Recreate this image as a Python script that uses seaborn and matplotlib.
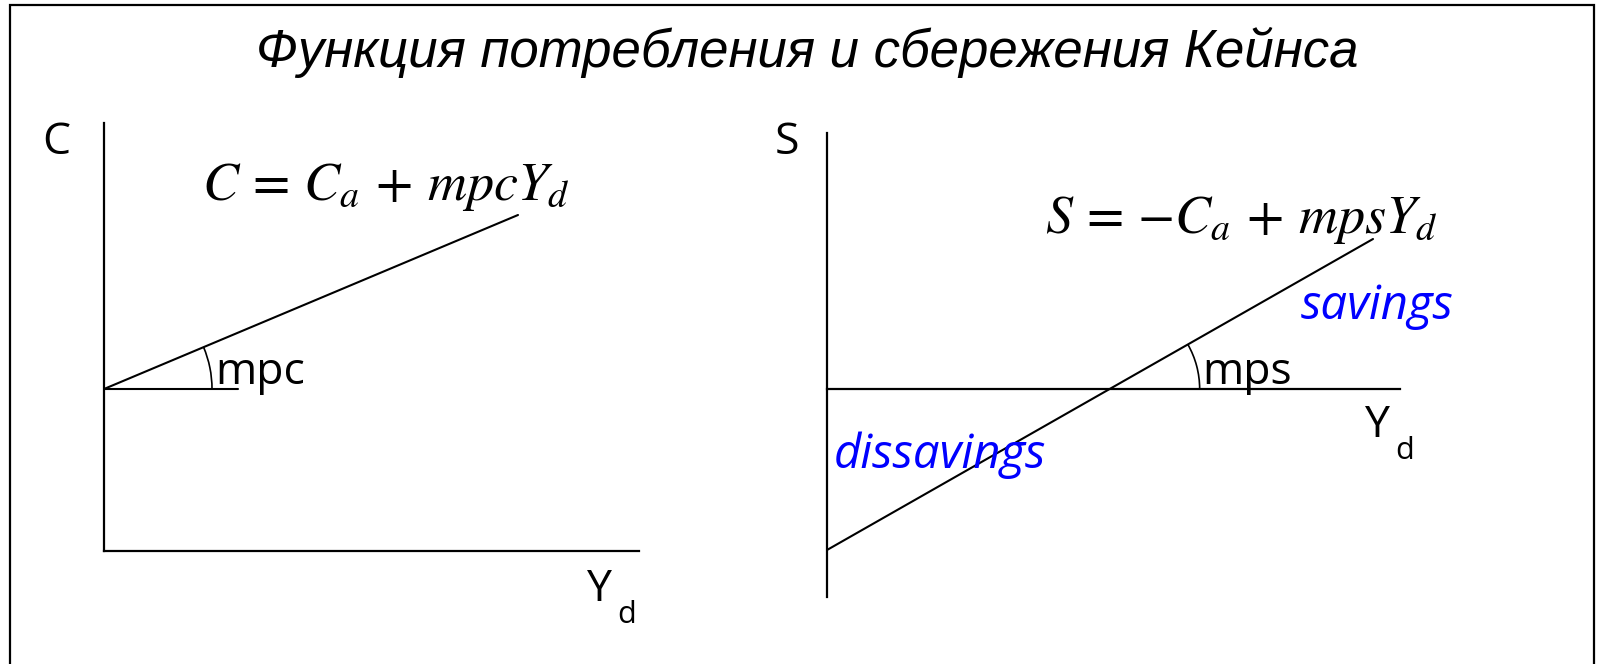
import numpy as np
import pandas as pd
import matplotlib
matplotlib.use("Agg")
import matplotlib.pyplot as plt
from matplotlib.patches import Arc, Rectangle
import seaborn as sns

# chart values (1 unit = 10 px of the original picture)
yd_cons = [0, 41.4]
cons = [16.2, 33.6]
mpc_base = [0, 13.4]

yd_sav = [0, 54.6]
sav = [-16.1, 15.0]

title = "Функция потребления и сбережения Кейнса"
cons_formula = r"$C\,=\,C_a\,+\,mpcY_d$"
sav_formula = r"$S\,=\,{-}C_a\,+\,mpsY_d$"

W, H = 1602, 664
sns.set_theme(style="white")
plt.rcParams["mathtext.fontset"] = "stix"
plt.rcParams["font.family"] = ["Open Sans", "DejaVu Sans"]
plt.rcParams["text.color"] = "black"

fig = plt.figure(figsize=(W / 100, H / 100), dpi=100)


def px(x, y):
    return x / W, 1 - y / H


def place_axes(x0, y0, x1, y1):
    return fig.add_axes([x0 / W, 1 - y1 / H, (x1 - x0) / W, (y1 - y0) / H])


def bare(ax):
    ax.set_xticks([])
    ax.set_yticks([])
    ax.set_xlabel("")
    ax.set_ylabel("")
    for s in ["top", "right"]:
        ax.spines[s].set_visible(False)
    for s in ["left", "bottom"]:
        ax.spines[s].set_color("black")
        ax.spines[s].set_linewidth(1.6)
    ax.patch.set_alpha(0)


# ---- left panel: consumption
ax1 = place_axes(104, 123, 639, 551)
df_c = pd.DataFrame({"Yd": yd_cons, "C": cons})
sns.lineplot(data=df_c, x="Yd", y="C", ax=ax1, color="black", lw=1.5)
sns.lineplot(x=mpc_base, y=[cons[0]] * 2, ax=ax1, color="black", lw=1.5)
ax1.set_xlim(0, 53.5)
ax1.set_ylim(0, 42.8)
bare(ax1)
ang_c = np.degrees(np.arctan2(cons[1] - cons[0], yd_cons[1] - yd_cons[0]))
ax1.add_patch(Arc((yd_cons[0], cons[0]), 21.6, 21.6, theta1=0, theta2=ang_c,
                  color="black", lw=1.2))

# ---- right panel: savings
ax2 = place_axes(827, 133, 1400, 597)
df_s = pd.DataFrame({"Yd": yd_sav, "S": sav})
sns.lineplot(data=df_s, x="Yd", y="S", ax=ax2, color="black", lw=1.5)
ax2.set_xlim(0, 57.3)
ax2.set_ylim(-20.8, 25.6)
bare(ax2)
ax2.spines["bottom"].set_position(("data", 0))
x_cross = yd_sav[0] - sav[0] * (yd_sav[1] - yd_sav[0]) / (sav[1] - sav[0])
ang_s = np.degrees(np.arctan2(sav[1] - sav[0], yd_sav[1] - yd_sav[0]))
ax2.add_patch(Arc((x_cross, 0), 18.0, 18.0, theta1=0, theta2=ang_s,
                  color="black", lw=1.2))

# ---- texts
fig.text(*px(807, 52), title, ha="center", va="center", fontsize=38,
         style="italic", color="black", family=["Liberation Sans"])

lab = dict(color="black", fontsize=32)
fig.text(*px(56, 143), "C", ha="center", va="center", **lab)
fig.text(*px(787, 143), "S", ha="center", va="center", **lab)
fig.text(*px(215, 384), "mpc", ha="left", va="baseline", **lab)
fig.text(*px(1202, 384), "mps", ha="left", va="baseline", **lab)

for xy in [(587, 601), (1365, 437)]:
    fig.text(*px(*xy), "Y", ha="left", va="baseline", **lab)
    fig.text(*px(xy[0] + 30, xy[1] + 22), "d", ha="left", va="baseline",
             color="black", fontsize=22)

fig.text(*px(386, 186), cons_formula, ha="center", va="center", fontsize=39)
fig.text(*px(1241, 219), sav_formula, ha="center", va="center", fontsize=39)

fig.text(*px(1377, 306), "savings", ha="center", va="center", color="#0000ff",
         fontsize=34, style="italic")
fig.text(*px(940, 455), "dissavings", ha="center", va="center", color="#0000ff",
         fontsize=34, style="italic")

# frame round the slide
fig.add_artist(Rectangle((10 / W, -0.01), 1584 / W, 1.01 - 5 / H,
                         transform=fig.transFigure, fill=False,
                         edgecolor="black", lw=1.6))

fig.savefig("out.png", dpi=100)
